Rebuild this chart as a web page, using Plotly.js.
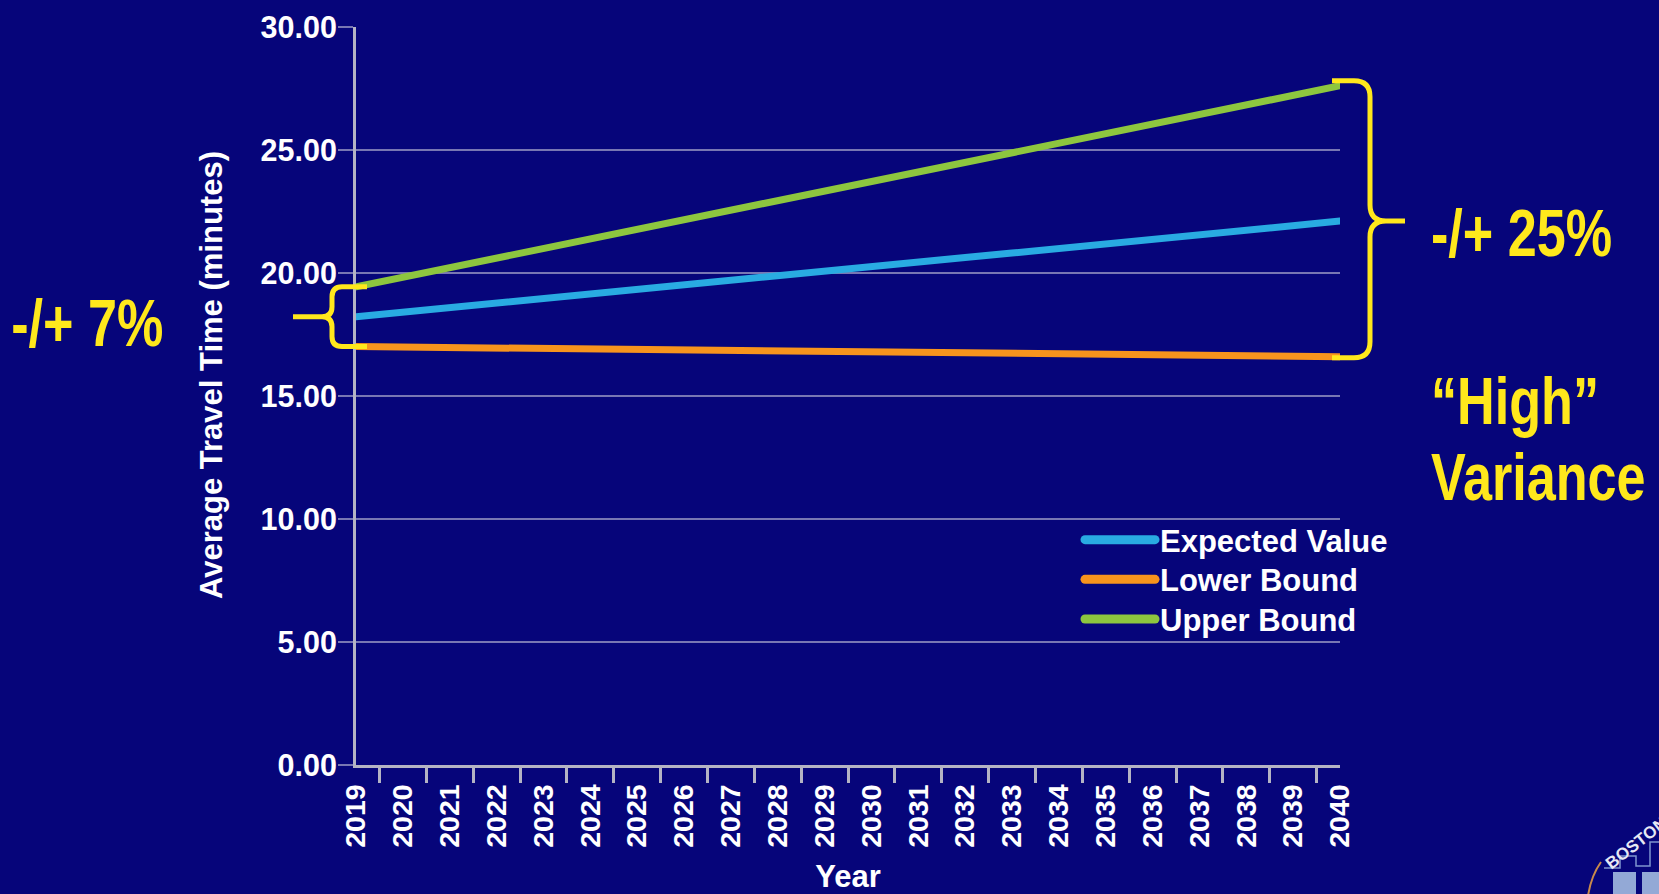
<!DOCTYPE html>
<html>
<head>
<meta charset="utf-8">
<script src="https://cdn.plot.ly/plotly-3.0.1.min.js"></script>
<style>
  html, body { margin: 0; padding: 0; background: #06057a; overflow: hidden; }
  #chart { width: 1659px; height: 894px; }
  .js-line, .legendlines path { stroke-linecap: round !important; }
  .legendlines path { stroke-width: 9px !important; }
</style>
</head>
<body>
<div id="chart"></div>
<script>
// Forecast years and average travel time (minutes) per scenario
const years = ['2019', '2020', '2021', '2022', '2023', '2024', '2025', '2026', '2027', '2028', '2029',
               '2030', '2031', '2032', '2033', '2034', '2035', '2036', '2037', '2038', '2039', '2040'];

const expectedValue = [18.22, 18.41, 18.59, 18.78, 18.96, 19.15, 19.33, 19.52, 19.70, 19.89, 20.07,
                       20.26, 20.44, 20.63, 20.81, 21.00, 21.18, 21.37, 21.55, 21.74, 21.92, 22.11];

const lowerBound = [17.01, 16.99, 16.97, 16.95, 16.93, 16.91, 16.89, 16.87, 16.85, 16.83, 16.81,
                    16.80, 16.78, 16.76, 16.74, 16.72, 16.70, 16.68, 16.66, 16.64, 16.62, 16.60];

const upperBound = [19.44, 19.83, 20.22, 20.61, 21.00, 21.39, 21.77, 22.16, 22.55, 22.94, 23.33,
                    23.72, 24.11, 24.50, 24.89, 25.28, 25.66, 26.05, 26.44, 26.83, 27.22, 27.61];

const seriesNames = ['Expected Value', 'Lower Bound', 'Upper Bound'];
const seriesColors = ['#29abe2', '#f7941d', '#8dc63f'];

const yRange = [0, 30];
const yTitle = 'Average Travel Time (minutes)';
const xTitle = 'Year';
const noteStart = '-/+ 7%';
const noteEnd = '-/+ 25%';
const noteVariance = ['\u201CHigh\u201D', 'Variance'];

// Page geometry (pixels)
const W = 1659, H = 894;
const M = { l: 356, r: 319, t: 27, b: 129 };
const plotW = W - M.l - M.r;
const plotH = H - M.t - M.b;
const px2x = px => (px - M.l) / plotW;          // page px -> paper x
const px2y = py => (H - M.b - py) / plotH;      // page px -> paper y
const unitsPerPx = (yRange[1] - yRange[0]) / plotH;

const white = '#ffffff';
const yellow = '#ffe81c';
const grid = 'rgba(190,190,215,0.62)';
const axisGrey = '#b4b4c4';
const baseFont = 'Arial, "Liberation Sans", sans-serif';

const traces = [expectedValue, lowerBound, upperBound].map((vals, i) => ({
  type: 'scatter',
  mode: 'lines',
  x: years,
  y: vals,
  name: seriesNames[i],
  line: { color: seriesColors[i], width: 7 },
  hoverinfo: 'skip'
}));

// Curly brace spanning [bot, top] in data units; arms at xArm, spine at xSpine, tip at xTip (page px)
function brace(xArm, xSpine, xTip, top, mid, bot, rPx) {
  const a = px2x(xArm), s = px2x(xSpine), t = px2x(xTip);
  const dir = Math.sign(xTip - xSpine);
  const rx = rPx / plotW * dir;
  const ry = rPx * unitsPerPx;
  return [
    `M${a},${top}`,
    `L${s - rx},${top}`,
    `Q${s},${top} ${s},${top - ry}`,
    `L${s},${mid + ry}`,
    `Q${s},${mid} ${s + rx},${mid}`,
    `L${t},${mid}`,
    `M${s + rx},${mid}`,
    `Q${s},${mid} ${s},${mid - ry}`,
    `L${s},${bot + ry}`,
    `Q${s},${bot} ${s - rx},${bot}`,
    `L${a},${bot}`
  ].join(' ');
}

const last = years.length - 1;
const shapes = [
  {
    type: 'path', xref: 'paper', yref: 'y', layer: 'above',
    path: brace(367, 332, 293, upperBound[0], expectedValue[0], lowerBound[0], 10),
    line: { color: yellow, width: 5 }
  },
  {
    type: 'path', xref: 'paper', yref: 'y', layer: 'above',
    path: brace(1332, 1370, 1405, upperBound[last] + 5 * unitsPerPx, expectedValue[last],
                lowerBound[last] - 1 * unitsPerPx, 16),
    line: { color: yellow, width: 5 }
  },
  // corner emblem
  {
    type: 'path', xref: 'paper', yref: 'paper', layer: 'above',
    path: `M${px2x(1601)},${px2y(862)} Q${px2x(1591)},${px2y(876)} ${px2x(1588)},${px2y(896)}`,
    line: { color: '#c98a4b', width: 2 }
  },
  {
    type: 'path', xref: 'paper', yref: 'paper', layer: 'above',
    path: `M${px2x(1604)},${px2y(868)} L${px2x(1620)},${px2y(868)} L${px2x(1620)},${px2y(856)}
           L${px2x(1636)},${px2y(856)} L${px2x(1636)},${px2y(866)} L${px2x(1650)},${px2y(866)}
           L${px2x(1650)},${px2y(842)} L${px2x(1662)},${px2y(842)}`,
    line: { color: '#7f95cf', width: 1.5 }
  },
  {
    type: 'rect', xref: 'paper', yref: 'paper', layer: 'above',
    x0: px2x(1613), x1: px2x(1636), y0: px2y(896), y1: px2y(872),
    fillcolor: '#93a9d6', line: { width: 0 }
  },
  {
    type: 'rect', xref: 'paper', yref: 'paper', layer: 'above',
    x0: px2x(1642), x1: px2x(1662), y0: px2y(896), y1: px2y(872),
    fillcolor: '#93a9d6', line: { width: 0 }
  }
];

// Callout notes are set in a condensed bold face (Arial bold squeezed horizontally)
const noteFont = { family: baseFont, size: 66, color: yellow, weight: 'bold' };
const narrowScale = 0.79;
const annotations = [
  { xref: 'paper', yref: 'paper', x: px2x(87), y: px2y(323), xanchor: 'center', yanchor: 'middle',
    text: noteStart, showarrow: false, font: noteFont, _origin: 'center' },
  { xref: 'paper', yref: 'paper', x: px2x(1429), y: px2y(233), xanchor: 'left', yanchor: 'middle',
    text: noteEnd, showarrow: false, font: noteFont, _origin: 'left' },
  { xref: 'paper', yref: 'paper', x: px2x(1429), y: px2y(401), xanchor: 'left', yanchor: 'middle',
    text: noteVariance[0], showarrow: false, font: noteFont, _origin: 'left' },
  { xref: 'paper', yref: 'paper', x: px2x(1429), y: px2y(477), xanchor: 'left', yanchor: 'middle',
    text: noteVariance[1], showarrow: false, font: noteFont, _origin: 'left' },
  // y-axis title
  { xref: 'paper', yref: 'paper', x: px2x(211), y: px2y(375), xanchor: 'center', yanchor: 'middle',
    text: yTitle, textangle: -90, showarrow: false,
    font: { family: baseFont, size: 31, color: white, weight: 'bold' } },
  { xref: 'paper', yref: 'paper', x: px2x(1636), y: px2y(843), xanchor: 'center', yanchor: 'middle',
    text: 'BOSTON', textangle: -38, showarrow: false,
    font: { family: baseFont, size: 17, color: '#e6e8f4' } }
];
const narrowNotes = annotations.map((a, i) => a._origin ? { i, origin: a._origin } : null).filter(Boolean);
annotations.forEach(a => delete a._origin);

const legendRowGap = 39.7;   // px between legend rows

const layout = {
  width: W, height: H,
  margin: M,
  paper_bgcolor: '#06057a',
  plot_bgcolor: '#06057a',
  font: { family: baseFont, color: white, weight: 'bold' },
  showlegend: true,
  legend: {
    x: px2x(1080), xanchor: 'left',
    y: px2y(513), yanchor: 'top',
    bgcolor: 'rgba(0,0,0,0)',
    borderwidth: 0,
    itemwidth: 70,
    font: { family: baseFont, size: 31, color: white, weight: 'bold' },
    tracegroupgap: 0
  },
  xaxis: {
    type: 'category',
    tickson: 'boundaries',
    ticks: 'outside', ticklen: 15, tickwidth: 3, tickcolor: axisGrey,
    tickangle: -90,
    ticklabelstandoff: 5,
    tickfont: { family: baseFont, size: 28.5, color: white, weight: 'bold' },
    showgrid: false,
    showline: true, linecolor: axisGrey, linewidth: 3,
    zeroline: false,
    fixedrange: true,
    title: { text: xTitle, standoff: 27,
             font: { family: baseFont, size: 31, color: white, weight: 'bold' } }
  },
  yaxis: {
    range: yRange,
    dtick: 5,
    tickformat: '.2f',
    ticks: 'outside', ticklen: 15, tickwidth: 2, tickcolor: grid,
    ticklabelstandoff: -5,
    tickfont: { family: baseFont, size: 30.5, color: white, weight: 'bold' },
    showgrid: true, gridcolor: grid, gridwidth: 2,
    showline: true, linecolor: axisGrey, linewidth: 3,
    zeroline: false,
    fixedrange: true
  },
  shapes: shapes,
  annotations: annotations
};

function squeezeNotes() {
  narrowNotes.forEach(({ i, origin }) => {
    const t = document.querySelector(`g.annotation[data-index="${i}"] text.annotation-text`);
    if (!t) return;
    t.style.transformBox = 'fill-box';
    t.style.transformOrigin = origin + ' center';
    t.style.transform = `scaleX(${narrowScale})`;
  });
}

// Tighten legend rows to a fixed pitch
function tightenLegend() {
  const items = Array.from(document.querySelectorAll('.legend .traces'));
  if (!items.length) return;
  const parse = g => {
    const m = /translate\(\s*([-\d.e]+)[ ,]+([-\d.e]+)\s*\)/.exec(g.getAttribute('transform') || '');
    return m ? [parseFloat(m[1]), parseFloat(m[2])] : null;
  };
  const first = parse(items[0]);
  if (!first) return;
  items.forEach((g, i) => {
    const p = parse(g);
    if (!p) return;
    g.setAttribute('transform', `translate(${p[0]},${first[1] + i * legendRowGap})`);
  });
}

Plotly.newPlot('chart', traces, layout, { displayModeBar: false, staticPlot: true })
  .then(() => { squeezeNotes(); tightenLegend(); });
</script>
</body>
</html>
